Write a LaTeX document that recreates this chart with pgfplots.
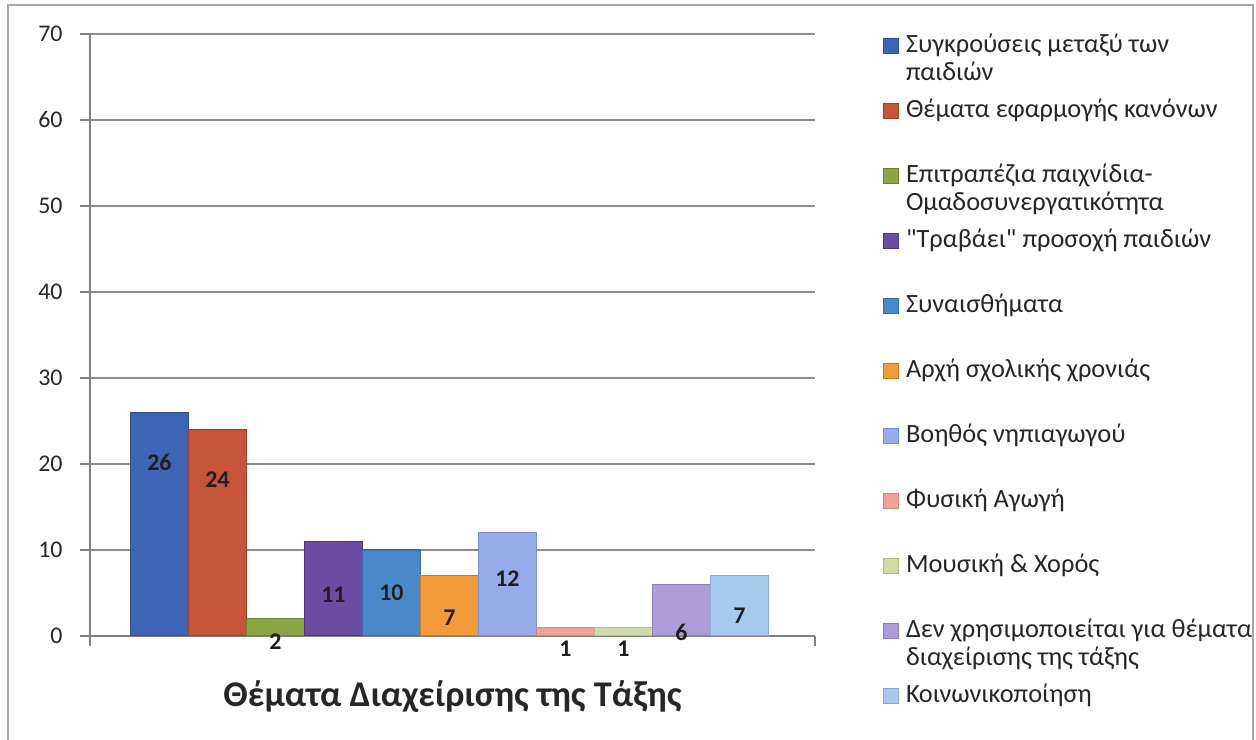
\documentclass[border=0pt]{standalone}
\usepackage{pgfplots}
\pgfplotsset{compat=1.18}
\usepackage{fontspec}
\setmainfont{Carlito}
\newfontfamily\qf{Carlito}
\definecolor{f1}{HTML}{3D64B5}\definecolor{d1}{HTML}{2F4F94}
\definecolor{f2}{HTML}{C6553A}\definecolor{d2}{HTML}{9E3F2A}
\definecolor{f3}{HTML}{8DA445}\definecolor{d3}{HTML}{6E8232}
\definecolor{f4}{HTML}{6A4DA3}\definecolor{d4}{HTML}{4F3680}
\definecolor{f5}{HTML}{4A8ACB}\definecolor{d5}{HTML}{356AA2}
\definecolor{f6}{HTML}{F39A3B}\definecolor{d6}{HTML}{C77A26}
\definecolor{f7}{HTML}{95ACE8}\definecolor{d7}{HTML}{7A8FCB}
\definecolor{f8}{HTML}{EFA29A}\definecolor{d8}{HTML}{D0847C}
\definecolor{f9}{HTML}{CFDCA6}\definecolor{d9}{HTML}{AFBD86}
\definecolor{f10}{HTML}{AC9DD8}\definecolor{d10}{HTML}{8F80BC}
\definecolor{f11}{HTML}{A7CAF1}\definecolor{d11}{HTML}{88ABD4}
\newcommand{\lf}{\fontsize{6.8}{8}\selectfont}
\newcommand{\gf}{\fontsize{7.5}{8}\selectfont}
\begin{document}
\begin{tikzpicture}[x=1mm,y=1mm]
\path[use as bounding box] (0,0) rectangle (125.6,74);
\draw[black!35, line width=0.2mm] (0.8,0) -- (0.8,73.5) -- (125.3,73.5) -- (125.3,0);
\begin{axis}[
  at={(9mm,10.4mm)}, anchor=south west,
  scale only axis, width=72.5mm, height=60.2mm,
  xmin=-0.198, xmax=12.302, ymin=0, ymax=70,
  ytick={0,10,...,70},
  xtick={-0.198,12.302}, xticklabels={},
  axis x line*=bottom, axis y line*=left,
  axis line style={-, draw=black!50, line width=0.2mm},
  tick style={black!50, line width=0.15mm},
  tick align=outside, major tick length=1mm,
  ymajorgrids, grid style={black!45, line width=0.15mm},
  ybar, bar width=5.8mm, bar shift=0pt,
  tick label style={font=\lf, text=black!85},
  yticklabel style={xshift=-0.5mm},
  /pgf/number format/assume math mode=true,
  xlabel={\bfseries Θέματα Διαχείρισης της Τάξης},
  xlabel style={font=\fontsize{10.3}{12}\selectfont, text=black!85, at={(axis description cs:0.5,-0.1013)}, anchor=center},
  nodes near coords,
  every node near coord/.append style={anchor=center, font=\lf\bfseries, text=black!88},
  legend style={at={(1.0938,1.0116)}, anchor=north west, draw=none, fill=none,
    inner sep=0pt, outer sep=0pt, row sep=2.71mm, column sep=0pt,
    font=\gf, text=black!85,
    cells={anchor=base west}},
  every axis plot post/.append style={legend image code/.code={\draw[##1, line width=0.1mm] (0mm,-0.1mm) rectangle (1.5mm,1.4mm);}},
]
\addplot[fill=f1, draw=d1, every node near coord/.append style={yshift=-5.0mm}] coordinates {(1,26)};
\addlegendentry{\vtop{\hbox{Συγκρούσεις μεταξύ των}\hbox{παιδιών}}}
\addplot[fill=f2, draw=d2, every node near coord/.append style={yshift=-5.0mm}] coordinates {(2,24)};
\addlegendentry{Θέματα εφαρμογής κανόνων}
\addplot[fill=f3, draw=d3, every node near coord/.append style={yshift=-2.3mm}] coordinates {(3,2)};
\addlegendentry{\vtop{\hbox{Επιτραπέζια παιχνίδια-}\hbox{Ομαδοσυνεργατικότητα}}}
\addplot[fill=f4, draw=d4, every node near coord/.append style={yshift=-5.3mm}] coordinates {(4,11)};
\addlegendentry{{\qf"}Τραβάει{\qf"} προσοχή παιδιών}
\addplot[fill=f5, draw=d5, every node near coord/.append style={yshift=-4.3mm}] coordinates {(5,10)};
\addlegendentry{Συναισθήματα}
\addplot[fill=f6, draw=d6, every node near coord/.append style={yshift=-4.2mm}] coordinates {(6,7)};
\addlegendentry{Αρχή σχολικής χρονιάς}
\addplot[fill=f7, draw=d7, every node near coord/.append style={yshift=-4.6mm}] coordinates {(7,12)};
\addlegendentry{Βοηθός νηπιαγωγού}
\addplot[fill=f8, draw=d8, every node near coord/.append style={yshift=-2.1mm}] coordinates {(8,1)};
\addlegendentry{Φυσική Αγωγή}
\addplot[fill=f9, draw=d9, every node near coord/.append style={yshift=-2.1mm}] coordinates {(9,1)};
\addlegendentry{Μουσική \& Χορός}
\addplot[fill=f10, draw=d10, every node near coord/.append style={yshift=-4.8mm}] coordinates {(10,6)};
\addlegendentry{\vtop{\hbox{Δεν χρησιμοποιείται για θέματα}\hbox{διαχείρισης της τάξης}}}
\addplot[fill=f11, draw=d11, every node near coord/.append style={yshift=-4.0mm}] coordinates {(11,7)};
\addlegendentry{Κοινωνικοποίηση}
\end{axis}
\end{tikzpicture}
\end{document}
